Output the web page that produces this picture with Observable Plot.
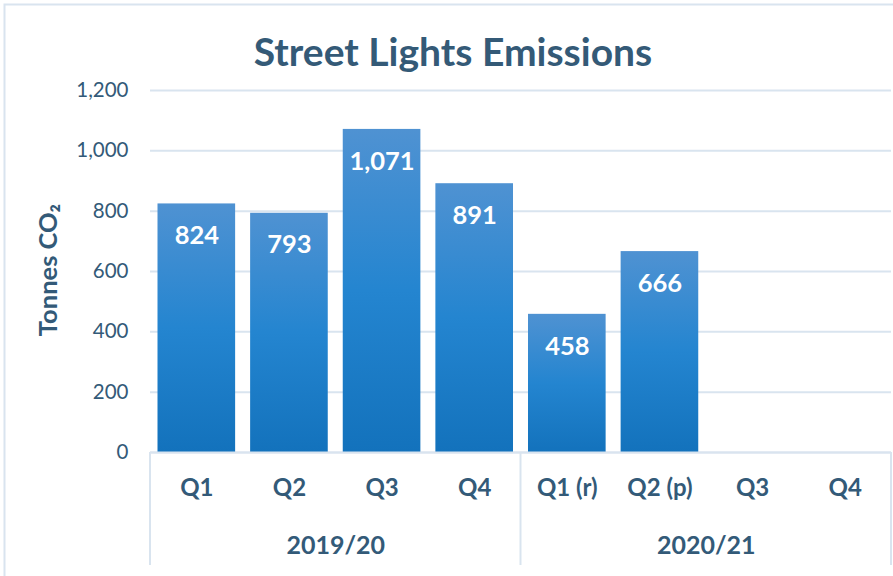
<!DOCTYPE html>
<html>
<head>
<meta charset="utf-8">
<script src="https://cdn.jsdelivr.net/npm/d3@7"></script>
<script src="https://cdn.jsdelivr.net/npm/@observablehq/plot@0.6"></script>
<style>
  html, body { margin: 0; padding: 0; background: #fff; }
  #chart { width: 893px; height: 576px; overflow: hidden; }
</style>
</head>
<body>
<div id="chart"></div>
<script>
const title = "Street Lights Emissions";
const yLabel = "Tonnes CO₂";
const groups = ["2019/20", "2020/21"];
const quarters = [["Q1", "Q2", "Q3", "Q4"], ["Q1 (r)", "Q2 (p)", "Q3", "Q4"]];
const values = [[824, 793, 1071, 891], [458, 666, null, null]];
const yTicks = [0, 200, 400, 600, 800, 1000, 1200];

const textColor = "#335a78";
const gridColor = "#d9e4ef";
const font = "Lato, 'Open Sans', sans-serif";

const rows = [];
groups.forEach((g, gi) => quarters[gi].forEach((q, qi) => {
  rows.push({key: g + "|" + q, group: g, quarter: q, value: values[gi][qi]});
}));
const keys = rows.map(d => d.key);
const bars = rows.filter(d => d.value != null);

const W = 893, H = 576, mL = 150, mR = 2, mT = 90, mB = 124;
const step = (W - mL - mR) / keys.length;

const plot = Plot.plot({
  width: W, height: H,
  marginLeft: mL, marginRight: mR, marginTop: mT, marginBottom: mB,
  style: {fontFamily: font, color: textColor, background: "transparent", overflow: "visible"},
  x: {type: "band", domain: keys, padding: 0, round: false, axis: null},
  y: {domain: [0, 1200], axis: null},
  marks: [
    Plot.gridY(yTicks, {stroke: gridColor, strokeOpacity: 1, strokeWidth: 2}),
    Plot.axisY(yTicks, {tickSize: 0, tickPadding: 22, tickFormat: d3.format(","), fontSize: 20.5, fill: textColor, label: null}),
    Plot.barY(bars, {x: "key", y: "value", fill: "url(#barGrad)", insetLeft: 7.5, insetRight: 7.5}),
    Plot.ruleY([0], {stroke: gridColor, strokeWidth: 2}),
    Plot.text(bars, {x: "key", y: "value", text: d => d3.format(",")(d.value), dy: 32, fill: "white", fontSize: 25.5, fontWeight: "bold"}),
    Plot.text(rows, {x: "key", text: "quarter", frameAnchor: "bottom", dy: 43, fill: textColor, fontSize: 24, fontWeight: "bold"}),
    Plot.text(groups, {x: (g, i) => g + "|" + quarters[i][2], text: d => d, frameAnchor: "bottom", dy: 101, dx: -step / 2, fill: textColor, fontSize: 25, fontWeight: "bold"})
  ]
});

const svg = d3.select(plot);
const defs = svg.insert("defs", ":first-child");
const grad = defs.append("linearGradient").attr("id", "barGrad").attr("x1", 0).attr("y1", 0).attr("x2", 0).attr("y2", 1);
grad.append("stop").attr("offset", "0%").attr("stop-color", "#4f92d2");
grad.append("stop").attr("offset", "50%").attr("stop-color", "#2485d0");
grad.append("stop").attr("offset", "100%").attr("stop-color", "#1372bc");

// outer chart border
svg.insert("rect", "defs + *").attr("x", 4.5).attr("y", 4.5).attr("width", 920).attr("height", 620)
  .attr("fill", "none").attr("stroke", gridColor).attr("stroke-width", 2);

// group separators using the plot's x scale
const xs = plot.scale("x");
const ys = plot.scale("y");
const y0 = ys.apply(0);
const sepX = groups.map((g, i) => xs.apply(g + "|" + quarters[i][0]));
sepX.push(xs.apply(keys[keys.length - 1]) + xs.bandwidth);
svg.append("g").selectAll("line").data(sepX).join("line")
  .attr("x1", d => d).attr("x2", d => d).attr("y1", y0).attr("y2", y0 + 113)
  .attr("stroke", gridColor).attr("stroke-width", 2);

// title
svg.append("text").attr("x", 453).attr("y", 66).attr("text-anchor", "middle")
  .attr("font-family", font).attr("font-size", 39).attr("font-weight", "bold").attr("fill", "#345a77")
  .text(title);

// y label
svg.append("text").attr("transform", "translate(57,270) rotate(-90)").attr("text-anchor", "middle")
  .attr("font-family", font).attr("font-size", 25.5).attr("font-weight", "bold").attr("fill", textColor)
  .text(yLabel);

document.getElementById("chart").appendChild(plot);
</script>
</body>
</html>
